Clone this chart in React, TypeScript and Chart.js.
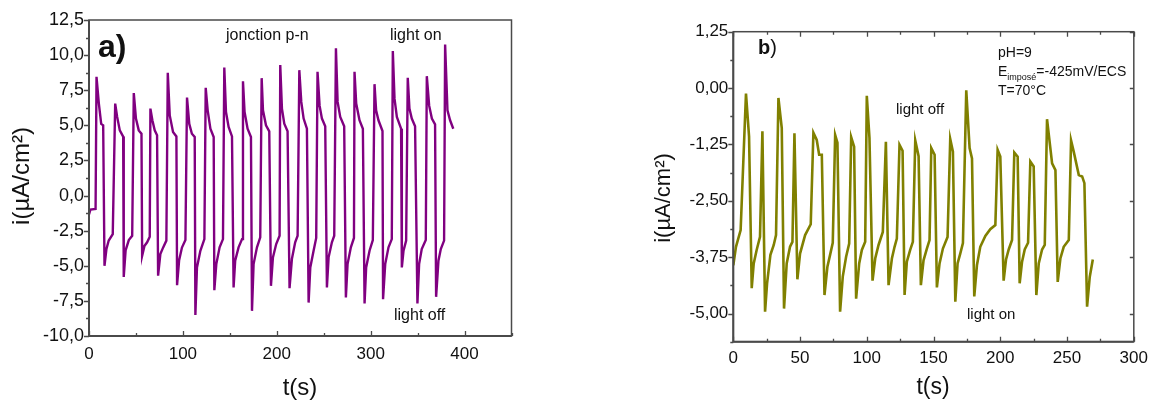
import React, { useEffect, useRef } from 'react';
import { Chart, registerables } from 'chart.js';

Chart.register(...registerables);

const FONT = '"Liberation Sans", Arial, Helvetica, sans-serif';

// ---------- Panel a) : jonction p-n ----------
const timeA = [
  0, 1.5, 7,
  8, 10.5, 13, 15.1, 16.5, 18.6, 21, 25.3,
  27.9, 30, 32.8, 36.4, 37, 39, 42.4, 46,
  47.7, 50, 53, 55.9, 56.6, 59, 61.9, 64.7,
  65.4, 67.5, 70, 72.5, 73.6, 76, 79, 82.4,
  83.9, 86, 89.5, 93.1, 93.8, 96, 99, 102.7,
  104.4, 106.8, 109.6, 112.6, 113.3, 115, 118.6, 122.9,
  124.3, 126.4, 129.3, 132.8, 133.5, 135.6, 139.1, 142.7,
  144.1, 145.9, 148.7, 152.3, 154, 155.7, 159.3, 163,
  164, 165.7, 168.9, 172.5, 173.6, 175.3, 178.9, 182.4,
  183.9, 185.3, 188.5, 192, 193.8, 195.9, 199.4, 203,
  203.7, 205.5, 208, 211.5, 213.6, 216.1, 219.6, 222.2,
  224, 226.1, 228.6, 232.1, 233.9, 235.7, 239.2, 242,
  243.4, 245.6, 248.1, 251.6, 253.4, 255.2, 258.7, 261.2,
  263, 264.8, 267.6, 271.8, 273.6, 275.4, 278.9, 282.2,
  282.8, 284.6, 288.1, 291.7, 293.5, 295.2, 298.8, 302.3,
  304.1, 305.8, 308.3, 312.6, 313.2, 315.5, 319, 322.5,
  323.6, 325.4, 327.9, 332.4, 333.2, 335, 337.8,
  339.5, 341.3, 343.8, 347.3, 349.8, 351.6, 354.4, 358.7,
  359.8, 362.3, 365.2, 368.6, 369.7, 372.2, 374.7, 378.2,
  379.3, 381.8, 384.6, 388,
];
const currentA = [
  -1.35, -1.0, -0.95,
  8.45, 6.55, 5.1, 5.0, -5.0, -3.8, -3.2, -2.74,
  6.55, 5.6, 4.64, 4.2, -5.8, -3.9, -3.17, -2.86,
  7.3, 5.48, 4.64, 4.4, -4.29, -3.6, -3.33, -2.93,
  6.19, 5.36, 4.64, 4.29, -5.71, -4.17, -3.69, -3.21,
  8.74, 5.71, 4.52, 4.21, -6.38, -4.6, -3.7, -3.17,
  6.98, 5.1, 4.4, 4.17, -8.5, -5.12, -3.93, -3.1,
  7.67, 6.07, 4.76, 4.17, -6.74, -4.88, -3.69, -3.1,
  9.12, 5.95, 4.88, 4.21, -6.55, -4.64, -3.69, -3.1,
  8.14, 5.95, 4.76, 4.17, -8.21, -4.88, -3.69, -2.98,
  8.36, 6.07, 5.0, 4.57, -6.43, -4.4, -3.45, -2.86,
  9.29, 6.19, 5.12, 4.57, -6.6, -4.52, -3.33, -2.86,
  8.93, 6.67, 5.48, 4.76, -7.62, -5.12, -3.93, -3.02,
  8.81, 6.4, 5.48, 4.93, -6.55, -4.4, -3.33, -2.86,
  10.48, 6.67, 5.6, 4.93, -7.26, -4.88, -3.69, -3.02,
  8.81, 6.55, 5.36, 4.76, -7.69, -5.12, -3.93, -3.17,
  7.93, 6.07, 5.36, 4.6, -7.38, -4.88, -3.69, -3.1,
  10.29, 6.9, 5.6, 4.76, -5.12, -3.93, -3.21,
  8.38, 6.19, 5.48, 4.93, -7.69, -4.88, -3.81, -3.17,
  8.5, 6.4, 5.48, 5.07, -7.21, -4.64, -3.81, -3.21,
  10.76, 6.07, 5.36, 4.76,
];
const xTicksA = [0, 100, 200, 300, 400];
const xMinorA = [50, 150, 250, 350, 450];
const yTicksA = [-10, -7.5, -5, -2.5, 0, 2.5, 5, 7.5, 10, 12.5];
const yMinorA = [-8.75, -6.25, -3.75, -1.25, 1.25, 3.75, 6.25, 8.75, 11.25];

// ---------- Panel b) : pH=9, T=70°C ----------
const timeB = [
  0, 2, 5.5, 9.5, 11.8, 13.8, 15.3, 17.5, 20,
  21.8, 23.8, 25.3, 27.8, 30.3, 32,
  33.8, 36.3, 38, 40, 42.5, 44.3,
  45.8, 48, 50, 53.8, 58,
  60, 62.5, 64.3, 66.3, 68.3, 70.5, 72.5, 74.5,
  76.3, 78, 80, 82, 84.5, 86.8,
  88.3, 90.5, 92, 94.3, 96.3, 98.8,
  100, 102, 104.3, 106.3, 108.8, 112,
  114.3, 116.3, 118.8, 120.8, 122.5,
  124.5, 126.8, 128.3, 130, 132.5, 134.5,
  136.3, 138.8, 140.5, 142.5, 145, 147,
  148.3, 150.8, 152.5, 154.5, 157, 160.5,
  162.5, 164.5, 166.3, 168, 170, 172,
  174.5, 177, 178.8, 180.5, 182.5, 185, 188.8, 192.5, 196.3,
  198, 200, 202.5, 204.3, 206.3, 208.8,
  210.5, 213, 214.5, 216.3, 218.3, 220.8,
  222.5, 225, 227, 228.8, 231.3, 233.3,
  235, 238.8, 241.3, 243, 245, 247.5, 251.3,
  253, 255, 258.8, 261.3, 263, 265, 267, 269.3,
];
const currentB = [
  -3.93, -3.52, -3.15, -0.12, -1.07, -4.44, -3.89, -3.59, -3.3,
  -0.96, -4.96, -4.33, -3.7, -3.48, -3.26,
  -0.22, -0.89, -4.89, -3.89, -3.52, -3.41,
  -1.0, -4.24, -3.67, -3.26, -3.02,
  -0.99, -1.15, -1.48, -1.48, -4.59, -3.96, -3.7, -3.43,
  -1.04, -1.21, -4.96, -4.18, -3.74, -3.45,
  -1.09, -1.3, -4.67, -3.89, -3.59, -3.41,
  -0.17, -1.11, -4.27, -3.78, -3.48, -3.19,
  -1.19, -4.37, -3.78, -3.52, -3.34,
  -1.26, -1.39, -4.59, -3.85, -3.59, -3.41,
  -1.16, -1.51, -4.37, -3.82, -3.56, -3.37,
  -1.33, -1.48, -4.42, -3.89, -3.56, -3.3,
  -1.13, -1.41, -4.74, -3.89, -3.67, -3.44,
  -0.05, -1.33, -1.56, -4.62, -3.93, -3.52, -3.28, -3.13, -3.04,
  -1.37, -1.52, -4.27, -3.8, -3.58, -3.37,
  -1.43, -1.52, -4.33, -3.85, -3.58, -3.43,
  -1.63, -1.74, -4.59, -3.89, -3.58, -3.48,
  -0.69, -1.67, -1.82, -4.3, -3.78, -3.52, -3.37,
  -1.16, -1.41, -1.93, -1.96, -2.11, -4.85, -4.19, -3.8,
];
const xTicksB = [0, 50, 100, 150, 200, 250, 300];
const xMinorB = [25, 75, 125, 175, 225, 275];
const yTicksB = [-5, -3.75, -2.5, -1.25, 0, 1.25];
const yMinorB = [-5.625, -4.375, -3.125, -1.875, -0.625, 0.625];

const xTitle = 't(s)';
const yTitle = 'i(µA/cm²)';

type Annot = { parts: { text: string; font: string; dy?: number }[]; x: number; y: number };
type Title = { text: string; x: number; y: number; size: number; rotate: boolean };

type Panel = {
  t: number[];
  v: number[];
  color: string;
  lineWidth: number;
  xMin: number; xMax: number; yMin: number; yMax: number;
  xTicks: number[]; xMinor: number[]; yTicks: number[]; yMinor: number[];
  decimals: number;
  padding: { top: number; right: number; bottom: number; left: number };
  yWidth: number; xHeight: number;
  xTickFont: number; yTickFont: number;
  xTickPad: number; yTickPad: number;
  topTicks: boolean; rightTicks: boolean;
  titles: Title[];
  annots: Annot[];
};

const framePlugin = {
  id: 'frame',
  afterDatasetsDraw(chart: any) {
    const p: Panel = chart.options.plugins.frame.panel;
    const { ctx, chartArea: a } = chart;
    const sx = chart.scales.x, sy = chart.scales.y;
    ctx.save();
    ctx.strokeStyle = '#4a4a4a';
    ctx.lineWidth = 1.5;
    ctx.strokeRect(a.left, a.top, a.right - a.left, a.bottom - a.top);
    ctx.lineWidth = 2;
    ctx.beginPath();
    ctx.moveTo(a.left, a.top);
    ctx.lineTo(a.left, a.bottom);
    ctx.lineTo(a.right, a.bottom);
    ctx.stroke();
    ctx.lineWidth = 1.3;
    ctx.beginPath();
    const yt = (vals: number[], len: number) => {
      vals.forEach((v) => {
        const y = Math.round(sy.getPixelForValue(v)) + 0.5;
        ctx.moveTo(a.left - len, y); ctx.lineTo(a.left, y);
      });
    };
    const xt = (vals: number[], len: number) => {
      vals.forEach((v) => {
        const x = Math.round(sx.getPixelForValue(v)) + 0.5;
        ctx.moveTo(x, a.bottom - len); ctx.lineTo(x, a.bottom);
        if (p.topTicks) { ctx.moveTo(x, a.top); ctx.lineTo(x, a.top + len); }
      });
    };
    yt(p.yTicks, 5); yt(p.yMinor, 3);
    xt(p.xTicks, 5); xt(p.xMinor, 3);
    if (p.rightTicks) {
      p.yTicks.forEach((v) => {
        const y = Math.round(sy.getPixelForValue(v)) + 0.5;
        ctx.moveTo(a.right - 4, y); ctx.lineTo(a.right, y);
      });
    }
    ctx.stroke();
    ctx.fillStyle = '#111';
    // axis titles
    ctx.textAlign = 'center';
    ctx.textBaseline = 'middle';
    p.titles.forEach((tt) => {
      ctx.save();
      ctx.font = `${tt.size}px ${FONT}`;
      ctx.translate(tt.x, tt.y);
      if (tt.rotate) ctx.rotate(-Math.PI / 2);
      ctx.fillText(tt.text, 0, 0);
      ctx.restore();
    });
    // annotations
    ctx.textBaseline = 'alphabetic';
    ctx.textAlign = 'left';
    p.annots.forEach((an) => {
      let x = an.x;
      an.parts.forEach((pt) => {
        ctx.font = pt.font;
        ctx.fillText(pt.text, x, an.y + (pt.dy || 0));
        x += ctx.measureText(pt.text).width;
      });
    });
    ctx.restore();
  },
};

function makeConfig(p: Panel): any {
  const fmt = (v: any) => Number(v).toFixed(p.decimals).replace('.', ',');
  return {
    type: 'line',
    data: {
      datasets: [
        {
          data: p.t.map((x, i) => ({ x, y: p.v[i] })),
          borderColor: p.color,
          borderWidth: p.lineWidth,
          pointRadius: 0,
          tension: 0,
          fill: false,
        },
      ],
    },
    options: {
      animation: false,
      responsive: false,
      devicePixelRatio: 1,
      layout: { padding: p.padding },
      plugins: {
        legend: { display: false },
        tooltip: { enabled: false },
        frame: { panel: p },
      },
      scales: {
        x: {
          type: 'linear',
          min: p.xMin,
          max: p.xMax,
          afterFit: (s: any) => { s.height = p.xHeight; },
          afterBuildTicks: (s: any) => { s.ticks = p.xTicks.map((v) => ({ value: v })); },
          grid: { display: false, drawTicks: false },
          border: { display: false },
          ticks: {
            autoSkip: false, maxRotation: 0, padding: p.xTickPad,
            color: '#111', font: { family: FONT, size: p.xTickFont },
            callback: (v: any) => String(v),
          },
          title: { display: false },
        },
        y: {
          type: 'linear',
          min: p.yMin,
          max: p.yMax,
          afterFit: (s: any) => { s.width = p.yWidth; },
          afterBuildTicks: (s: any) => { s.ticks = p.yTicks.map((v) => ({ value: v })); },
          grid: { display: false, drawTicks: false },
          border: { display: false },
          ticks: {
            autoSkip: false, padding: p.yTickPad,
            color: '#111', font: { family: FONT, size: p.yTickFont },
            callback: fmt,
          },
          title: { display: false },
        },
      },
    },
    plugins: [framePlugin],
  };
}

const panelA: Panel = {
  t: timeA, v: currentA, color: '#800080', lineWidth: 2.4,
  xMin: 0, xMax: 450, yMin: -10, yMax: 12.5,
  xTicks: xTicksA, xMinor: xMinorA, yTicks: yTicksA, yMinor: yMinorA,
  decimals: 1,
  padding: { top: 20, right: 66.5, bottom: 0, left: 0 },
  yWidth: 89, xHeight: 69,
  xTickFont: 17, yTickFont: 18,
  xTickPad: 8, yTickPad: 5,
  topTicks: false, rightTicks: false,
  titles: [
    { text: yTitle, x: 22, y: 176, size: 24, rotate: true },
    { text: xTitle, x: 300, y: 388, size: 24, rotate: false },
  ],
  annots: [
    { parts: [{ text: 'a)', font: `bold 32px ${FONT}` }], x: 98, y: 57 },
    { parts: [{ text: 'jonction p-n', font: `16px ${FONT}` }], x: 226, y: 40 },
    { parts: [{ text: 'light on', font: `16px ${FONT}` }], x: 390, y: 40 },
    { parts: [{ text: 'light off', font: `16px ${FONT}` }], x: 394, y: 320 },
  ],
};

const OFFB = 578;
const panelB: Panel = {
  t: timeB, v: currentB, color: '#808000', lineWidth: 2.6,
  xMin: 0, xMax: 300, yMin: -5.625, yMax: 1.25,
  xTicks: xTicksB, xMinor: xMinorB, yTicks: yTicksB, yMinor: yMinorB,
  decimals: 2,
  padding: { top: 31.7, right: 23.2, bottom: 0, left: 0 },
  yWidth: 155.3, xHeight: 63.3,
  xTickFont: 17, yTickFont: 17,
  xTickPad: 6, yTickPad: 5,
  topTicks: true, rightTicks: true,
  titles: [
    { text: yTitle, x: 664 - OFFB, y: 198, size: 22, rotate: true },
    { text: xTitle, x: 933 - OFFB, y: 388, size: 23, rotate: false },
  ],
  annots: [
    { parts: [{ text: 'b', font: `bold 20px ${FONT}` }, { text: ')', font: `20px ${FONT}` }], x: 758 - OFFB, y: 54 },
    { parts: [{ text: 'pH=9', font: `14px ${FONT}` }], x: 998 - OFFB, y: 57 },
    {
      parts: [
        { text: 'E', font: `14px ${FONT}` },
        { text: 'imposé', font: `9px ${FONT}`, dy: 4 },
        { text: '=-425mV/ECS', font: `14px ${FONT}` },
      ],
      x: 998 - OFFB, y: 75.5,
    },
    { parts: [{ text: 'T=70°C', font: `14px ${FONT}` }], x: 998 - OFFB, y: 94.5 },
    { parts: [{ text: 'light off', font: `15px ${FONT}` }], x: 896 - OFFB, y: 113.5 },
    { parts: [{ text: 'light on', font: `15px ${FONT}` }], x: 967 - OFFB, y: 318.5 },
  ],
};

function PanelChart({ panel, left, width }: { panel: Panel; left: number; width: number }) {
  const ref = useRef<HTMLCanvasElement | null>(null);
  useEffect(() => {
    if (!ref.current) return;
    const chart = new Chart(ref.current, makeConfig(panel));
    return () => chart.destroy();
  }, [panel]);
  return (
    <canvas
      ref={ref}
      width={width}
      height={405}
      style={{ position: 'absolute', left, top: 0, width, height: 405 }}
    />
  );
}

export default function App() {
  return (
    <div style={{ position: 'absolute', left: 0, top: 0, width: 1157, height: 405, background: '#fff' }}>
      <PanelChart panel={panelA} left={0} width={578} />
      <PanelChart panel={panelB} left={OFFB} width={579} />
    </div>
  );
}
